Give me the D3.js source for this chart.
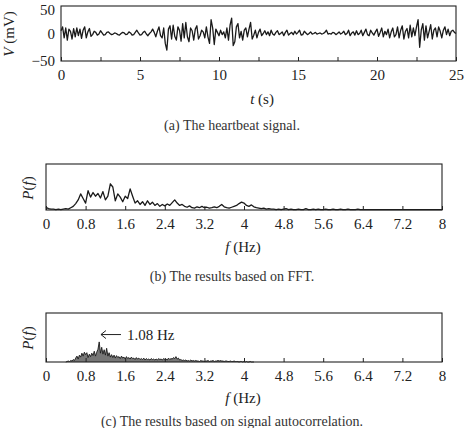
<!DOCTYPE html>
<html>
<head>
<meta charset="utf-8">
<script src="https://cdn.jsdelivr.net/npm/d3@7"></script>
<style>
  body { margin: 0; background: #fff; }
  svg { display: block; font-family: "Liberation Serif", "Times New Roman", serif; }
  svg text { font-family: "Liberation Serif", "Times New Roman", serif; }
  .tick text { font-size: 15px; fill: #222; }
  .caption { font-size: 14px; fill: #333; }
  .title { font-size: 15px; fill: #222; }
</style>
</head>
<body>
<svg id="chart" width="465" height="428"></svg>
<script>
"use strict";
/* global d3 */

// (a) heartbeat signal, mV, one value every 0.1 s from 0 to 25 s
var signalStep = 0.1;
var signalValues = [
  5, 12, -8, 10, -12, 8, 4, -10, 9, -6,
  10, -4, 8, -9, 6, 12, -8, 3, 9, -5,
  -2, 4, 2, -3, -1, 5, 1, -3, -2, 2,
  3, 0, -2, -1, 1, 0, -2, -3, 0, 2,
  1, -2, -1, 3, 1, -3, -2, 2, 6, 1,
  -3, -2, 2, 4, -1, -4, 0, 3, 8, 2,
  -6, 4, 12, -4, -8, 10, -18, -30, 8, 14,
  -10, 15, -5, -12, 12, 6, -14, 18, -8, 20,
  -6, -15, 10, 5, -12, 8, 14, -10, -4, 6,
  3, -8, 12, -6, -18, 25, 10, -20, 8, 2,
  -4, 6, -2, 3, -8, 10, -12, 15, 28, -22,
  -15, 12, 18, -8, 4, -12, 6, 10, -6, 8,
  20, -10, -3, 6, -8, 2, 8, -4, 0, 5,
  -2, 3, -4, 6, -1, -3, 2, 5, -2, 0,
  3, -4, 2, 6, -3, 0, 2, -2, 4, -1,
  2, 6, -3, -2, 4, 1, -2, 0, 3, -1,
  0, 2, -1, 0, 1, -1, 0, 2, 6, -1,
  0, -1, 2, 1, -2, 0, 3, -1, 1, 4,
  -2, 0, 6, -4, 1, 3, -3, 5, -2, 0,
  6, -4, 2, 8, -2, -4, 6, 1, -3, 3,
  8, -5, 2, 10, -6, 4, -2, 8, -8, 3,
  10, -6, -2, 12, -8, 6, 14, -10, 4, 9,
  -8, 15, -6, 10, -4, 12, 25, -25, 6, 18,
  -12, 14, -8, 4, 16, -10, 6, 10, -6, 12,
  4, -8, 6, 12, -2, 8, -4, 4, 6, 2,
  0
];
var timeTicks = [0, 2.5, 5, 7.5, 10, 12.5, 15, 17.5, 20, 22.5, 25];
var voltTicks = [-50, 0, 50];

// (b) FFT spectrum, relative power, one value every 0.05 Hz from 0 Hz
var fftStep = 0.05;
var fftValues = [
  0.06, 0.03, 0.02, 0.02, 0.01, 0.02, 0.01, 0.02, 0.03, 0.02,
  0.05, 0.08, 0.14, 0.22, 0.35, 0.25, 0.15, 0.42, 0.28, 0.38,
  0.30, 0.36, 0.26, 0.40, 0.22, 0.30, 0.57, 0.50, 0.20, 0.35,
  0.28, 0.18, 0.30, 0.25, 0.46, 0.30, 0.15, 0.20, 0.12, 0.18,
  0.10, 0.20, 0.12, 0.17, 0.10, 0.14, 0.08, 0.12, 0.09, 0.13,
  0.10, 0.16, 0.22, 0.15, 0.10, 0.12, 0.08, 0.06, 0.09, 0.05,
  0.04, 0.07, 0.05, 0.08, 0.05, 0.06, 0.04, 0.05, 0.07, 0.05,
  0.08, 0.12, 0.07, 0.05, 0.04, 0.06, 0.08, 0.10, 0.14, 0.17,
  0.15, 0.10, 0.08, 0.11, 0.07, 0.05, 0.04, 0.03, 0.04, 0.02,
  0.03, 0.02, 0.02, 0.01, 0.02, 0.01, 0.02, 0.03, 0.01, 0.02,
  0.01, 0.01, 0.02, 0.01, 0.01, 0.03, 0.01, 0.01, 0.02, 0.01,
  0.02, 0.01, 0.01, 0.02, 0.01, 0.01, 0.02, 0.01, 0.01, 0.02,
  0.01, 0.01, 0.02, 0.01, 0.01, 0.01, 0.02, 0.01, 0.01, 0.01,
  0.01, 0.01, 0.01, 0.01, 0.01, 0.01, 0.01, 0.01, 0.01, 0.01,
  0.01, 0.01, 0.01, 0.01, 0.01, 0.01, 0.01, 0.01, 0.01, 0.01,
  0.01, 0.01, 0.01, 0.01, 0.01, 0.01, 0.01, 0.01, 0.01, 0.01,
  0.01
];

// (c) autocorrelation spectrum, relative power, every 0.025 Hz from 0.4 Hz
var acfStart = 0.4;
var acfStep = 0.025;
var acfValues = [
  0.00, 0.01, 0.02, 0.01, 0.03, 0.02, 0.05, 0.03, 0.08, 0.12,
  0.06, 0.14, 0.10, 0.18, 0.12, 0.20, 0.15, 0.19, 0.09, 0.16,
  0.11, 0.18, 0.13, 0.22, 0.12, 0.20, 0.26, 0.41, 0.18, 0.30,
  0.16, 0.25, 0.14, 0.28, 0.12, 0.19, 0.10, 0.15, 0.09, 0.14,
  0.08, 0.13, 0.09, 0.11, 0.07, 0.12, 0.08, 0.10, 0.06, 0.11,
  0.07, 0.09, 0.06, 0.10, 0.07, 0.08, 0.05, 0.09, 0.06, 0.08,
  0.05, 0.07, 0.05, 0.08, 0.04, 0.07, 0.05, 0.06, 0.04, 0.07,
  0.05, 0.06, 0.04, 0.06, 0.04, 0.07, 0.05, 0.06, 0.04, 0.07,
  0.05, 0.06, 0.04, 0.08, 0.05, 0.07, 0.06, 0.09, 0.07, 0.11,
  0.06, 0.08, 0.04, 0.05, 0.03, 0.04, 0.03, 0.04, 0.02, 0.03,
  0.02, 0.04, 0.02, 0.03, 0.02, 0.03, 0.02, 0.02, 0.01, 0.03,
  0.02, 0.02, 0.01, 0.02, 0.02, 0.03, 0.01, 0.02, 0.02, 0.03,
  0.01, 0.02, 0.02, 0.03, 0.02, 0.03, 0.02, 0.02, 0.01, 0.02,
  0.02, 0.01, 0.01, 0.02, 0.01, 0.01, 0.02, 0.01, 0.01, 0.01,
  0.00, 0.01, 0.01, 0.00, 0.01, 0.00, 0.01, 0.00, 0.00, 0.01,
  0.00, 0.00, 0.00
];
var freqTicks = [0, 0.8, 1.6, 2.4, 3.2, 4, 4.8, 5.6, 6.4, 7.2, 8];
var peakFreq = 1.08;

var svg = d3.select("#chart");

function toPoints(values, start, step) {
  return values.map((v, i) => ({ x: start + i * step, y: v }));
}

// d3 axes put their own sans-serif font on the group; drop it
function plainAxis(s) {
  s.attr("font-family", null).attr("font-size", null);
  s.select(".domain").remove();
  s.selectAll(".tick line").attr("stroke", "#222");
}

function panel(opts) {
  var x = d3.scaleLinear().domain(opts.xDomain).range([opts.left, opts.right]),
    y = d3.scaleLinear().domain(opts.yDomain).range([opts.bottom, opts.top]);

  var g = svg.append("g");

  if (opts.fill) {
    g.append("path")
      .datum(opts.points)
      .attr("fill", "#777")
      .attr("d", d3.area().x((d) => x(d.x)).y0(y(0)).y1((d) => y(d.y)));
  }

  g.append("path")
    .datum(opts.points)
    .attr("fill", "none")
    .attr("stroke", "#1a1a1a")
    .attr("stroke-width", opts.lineWidth || 1)
    .attr("stroke-linejoin", "round")
    .attr("d", d3.line().x((d) => x(d.x)).y((d) => y(d.y)));

  g.append("rect")
    .attr("x", opts.left)
    .attr("y", opts.top)
    .attr("width", opts.right - opts.left)
    .attr("height", opts.bottom - opts.top)
    .attr("fill", "none")
    .attr("stroke", "#222")
    .attr("stroke-width", 1.1);

  var xAxis = d3
    .axisBottom(x)
    .tickValues(opts.xTicks)
    .tickFormat(opts.xFormat)
    .tickSizeInner(-4)
    .tickSizeOuter(0)
    .tickPadding(8.5);

  g.append("g")
    .attr("transform", `translate(0,${opts.bottom})`)
    .call(xAxis)
    .call(plainAxis);

  if (opts.yTicks) {
    var top = opts.yDomain[1];
    g.append("g")
      .attr("transform", `translate(${opts.left},0)`)
      .call(d3.axisLeft(y).tickValues(opts.yTicks).tickSize(0).tickPadding(6))
      .call(plainAxis)
      .selectAll(".tick text")
      .attr("dy", (d) => (d === top ? "0.55em" : "0.32em"));
  }

  // x title
  var xt = g
    .append("text")
    .attr("class", "title")
    .attr("x", opts.xTitleX)
    .attr("y", opts.xTitleY)
    .attr("text-anchor", "middle");
  xt.append("tspan").attr("font-style", "italic").text(opts.xVar);
  xt.append("tspan").text(" " + opts.xUnit);

  // y title
  var yt = g
    .append("text")
    .attr("class", "title")
    .attr("transform", `translate(${opts.yTitleX},${opts.yTitleY}) rotate(-90)`)
    .attr("text-anchor", "middle");
  opts.yTitle.forEach((p) => {
    yt.append("tspan").attr("font-style", p.italic ? "italic" : null).text(p.t);
  });

  svg
    .append("text")
    .attr("class", "caption")
    .attr("x", 232)
    .attr("y", opts.captionY)
    .attr("text-anchor", "middle")
    .text(opts.caption);

  return { x, y, g };
}

var fmtTime = (d) => (d % 5 === 0 ? d : "");

panel({
  points: toPoints(signalValues, 0, signalStep),
  xDomain: [0, 25],
  yDomain: [-50, 50],
  left: 61,
  right: 456,
  top: 6,
  bottom: 61,
  xTicks: timeTicks,
  xFormat: fmtTime,
  yTicks: voltTicks,
  xVar: "t",
  xUnit: "(s)",
  xTitleX: 262,
  xTitleY: 104,
  yTitle: [{ t: "V", italic: true }, { t: " (mV)" }],
  yTitleX: 14,
  yTitleY: 34,
  caption: "(a) The heartbeat signal.",
  captionY: 130,
  lineWidth: 1.3,
});

panel({
  points: toPoints(fftValues, 0, fftStep),
  xDomain: [0, 8],
  yDomain: [0, 1],
  left: 46,
  right: 442,
  top: 164,
  bottom: 210,
  xTicks: freqTicks,
  xFormat: (d) => d,
  xVar: "f",
  xUnit: "(Hz)",
  xTitleX: 243,
  xTitleY: 252,
  yTitle: [{ t: "P", italic: true }, { t: "(" }, { t: "f", italic: true }, { t: ")" }],
  yTitleX: 33,
  yTitleY: 188,
  caption: "(b) The results based on FFT.",
  captionY: 281,
  lineWidth: 1.3,
});

var pc = panel({
  points: toPoints(acfValues, acfStart, acfStep),
  xDomain: [0, 8],
  yDomain: [0, 1],
  left: 46,
  right: 442,
  top: 313,
  bottom: 362,
  xTicks: freqTicks,
  xFormat: (d) => d,
  xVar: "f",
  xUnit: "(Hz)",
  xTitleX: 243,
  xTitleY: 403,
  yTitle: [{ t: "P", italic: true }, { t: "(" }, { t: "f", italic: true }, { t: ")" }],
  yTitleX: 33,
  yTitleY: 338,
  caption: "(c) The results based on signal autocorrelation.",
  captionY: 426,
  fill: true,
  lineWidth: 0.9,
});

// annotation for the main peak
var ax0 = pc.x(peakFreq) + 1.5,
  ay = pc.y(0.56);
pc.g
  .append("path")
  .attr("fill", "none")
  .attr("stroke", "#222")
  .attr("stroke-width", 1)
  .attr(
    "d",
    `M${ax0 + 20},${ay}H${ax0}M${ax0 + 5},${ay - 4}L${ax0},${ay}L${ax0 + 5},${ay + 4}`
  );
pc.g
  .append("text")
  .attr("class", "title")
  .attr("x", ax0 + 26)
  .attr("y", ay + 5)
  .text(peakFreq.toFixed(2) + " Hz");
</script>
</body>
</html>
